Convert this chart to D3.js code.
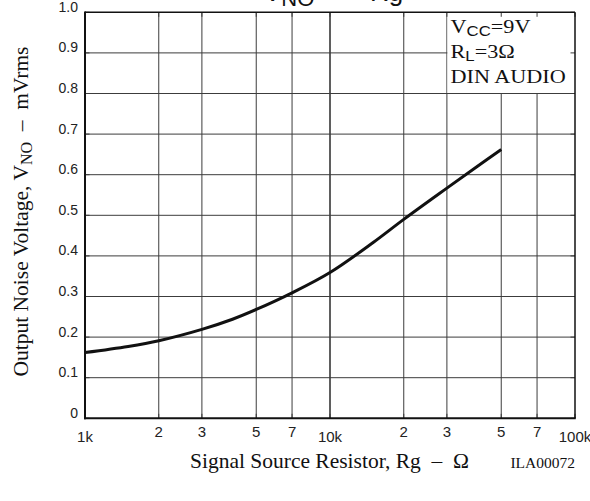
<!DOCTYPE html>
<html>
<head>
<meta charset="utf-8">
<script src="https://cdn.jsdelivr.net/npm/d3@7"></script>
<style>
  html, body { margin: 0; padding: 0; background: #fff; }
  svg { display: block; }
  text { white-space: pre; }
</style>
</head>
<body>
<svg id="chart" width="590" height="501"></svg>
<script>
// Signal source resistance (ohms) and output noise voltage (mVrms)
const rg  = [1000, 1500, 2000, 3000, 4000, 5000, 7000, 10000, 15000, 20000, 30000, 40000, 50000];
const vno = [0.162, 0.177, 0.191, 0.219, 0.244, 0.268, 0.309, 0.359, 0.433, 0.49, 0.567, 0.621, 0.662];

// Log-axis grid positions and their labels
const xTicks = [1000, 2000, 3000, 5000, 7000, 10000, 20000, 30000, 50000, 70000, 100000];
const xTickLabels = ["1k", "2", "3", "5", "7", "10k", "2", "3", "5", "7", "100k"];
const yTicks = [0, 0.1, 0.2, 0.3, 0.4, 0.5, 0.6, 0.7, 0.8, 0.9, 1.0];
const yTickLabels = ["0", "0.1", "0.2", "0.3", "0.4", "0.5", "0.6", "0.7", "0.8", "0.9", "1.0"];

// Condition box text
const condLines = [
  { main: "V", sub: "CC", rest: "=9V" },
  { main: "R", sub: "L", rest: "=3\u03A9" },
  { main: "DIN AUDIO", sub: "", rest: "" }
];

const svg = d3.select("#chart");
const plotL = 85, plotR = 575, plotT = 12.3, plotB = 418.3;

const x = d3.scaleLog().domain([1000, 100000]).range([plotL, plotR]);
const y = d3.scaleLinear().domain([0, 1]).range([plotB, plotT]);

const serif = "'Liberation Serif', 'Times New Roman', serif";
const sans = "'Liberation Sans', Arial, sans-serif";

// Title (runs off the top edge of the page)
const title = svg.append("text")
  .attr("font-family", sans).attr("font-size", 26).attr("fill", "#111")
  .attr("y", 0.5);
title.append("tspan").attr("x", 264).text("V");
title.append("tspan").attr("font-size", 22).attr("dy", 5.5).text("NO");
title.append("tspan").attr("dy", -5.5).text(" \u2013 ");
title.append("tspan").attr("x", 370).text("Rg");

// Grid
const grid = svg.append("g");
grid.selectAll("line").data(xTicks.slice(1, -1)).join("line")
  .attr("x1", d => x(d)).attr("x2", d => x(d))
  .attr("y1", plotT).attr("y2", plotB)
  .attr("stroke", d => d === 10000 ? "#1a1a1a" : "#3c3c3c")
  .attr("stroke-width", d => d === 10000 ? 1.4 : 1);
const gridY = svg.append("g");
gridY.selectAll("line").data(yTicks.slice(1, -1)).join("line")
  .attr("x1", plotL).attr("x2", plotR)
  .attr("y1", d => y(d)).attr("y2", d => y(d))
  .attr("stroke", "#3c3c3c").attr("stroke-width", 1);

// Condition box blanks the grid in the top-right cell block
svg.append("rect")
  .attr("x", x(30000) + 0.5).attr("y", plotT)
  .attr("width", plotR - x(30000) - 0.5).attr("height", y(0.8) - plotT - 0.5)
  .attr("fill", "#fff");

// Inward tick marks on all four sides
const tk = 4.5;
const tickG = svg.append("g").attr("stroke", "#3c3c3c").attr("stroke-width", 1);
tickG.append("g").selectAll("line").data(xTicks).join("line")
  .attr("x1", d => x(d)).attr("x2", d => x(d)).attr("y1", plotT).attr("y2", plotT + tk);
tickG.append("g").selectAll("line").data(xTicks).join("line")
  .attr("x1", d => x(d)).attr("x2", d => x(d)).attr("y1", plotB).attr("y2", plotB - tk);
tickG.append("g").selectAll("line").data(yTicks).join("line")
  .attr("x1", plotL).attr("x2", plotL + tk).attr("y1", d => y(d)).attr("y2", d => y(d));
tickG.append("g").selectAll("line").data(yTicks).join("line")
  .attr("x1", plotR).attr("x2", plotR - tk).attr("y1", d => y(d)).attr("y2", d => y(d));

// Frame
const frame = svg.append("g").attr("stroke", "#111").attr("fill", "none");
frame.append("line").attr("x1", plotL).attr("x2", plotR).attr("y1", plotT).attr("y2", plotT).attr("stroke-width", 1.5);
frame.append("line").attr("x1", plotR).attr("x2", plotR).attr("y1", plotT).attr("y2", plotB).attr("stroke-width", 1.5);
frame.append("line").attr("x1", plotL).attr("x2", plotL).attr("y1", plotT - 0.75).attr("y2", plotB + 1).attr("stroke-width", 2);
frame.append("line").attr("x1", plotL - 1).attr("x2", plotR + 0.75).attr("y1", plotB).attr("y2", plotB).attr("stroke-width", 2);

// Noise curve
const line = d3.line()
  .x((d, i) => x(rg[i]))
  .y(d => y(d))
  .curve(d3.curveCatmullRom.alpha(0.5));
svg.append("path")
  .datum(vno)
  .attr("d", line)
  .attr("fill", "none")
  .attr("stroke", "#111")
  .attr("stroke-width", 3)
  .attr("stroke-linejoin", "round");

// Y tick labels
svg.append("g").selectAll("text").data(yTicks).join("text")
  .attr("x", plotL - 7)
  .attr("y", d => y(d) - 0.5)
  .attr("text-anchor", "end")
  .attr("font-family", sans).attr("font-size", 14).attr("fill", "#222")
  .text((d, i) => yTickLabels[i]);

// X tick labels: decade labels sit a little lower than the in-between digits
svg.append("g").selectAll("text").data(xTicks).join("text")
  .attr("x", d => x(d))
  .attr("y", (d, i) => /k$/.test(xTickLabels[i]) ? 442 : 437)
  .attr("text-anchor", "middle")
  .attr("font-family", sans).attr("font-size", 15).attr("fill", "#222")
  .text((d, i) => xTickLabels[i]);

// Condition box text
const cond = svg.append("g")
  .attr("transform", "translate(450.5,0) scale(1.2,1)")
  .attr("font-family", serif).attr("font-size", 18.5).attr("fill", "#111");
condLines.forEach((c, i) => {
  const t = cond.append("text").attr("x", 0).attr("y", 32.7 + i * 25.3);
  t.append("tspan").text(c.main);
  if (c.sub) {
    t.append("tspan").attr("font-family", sans).attr("font-size", 14).attr("dy", 3.5).text(c.sub);
    t.append("tspan").attr("dy", -3.5).text(c.rest);
  }
});

// Axis titles
const yTitle = svg.append("text")
  .attr("transform", "translate(27.5,211.5) rotate(-90)")
  .attr("text-anchor", "middle")
  .attr("font-family", serif).attr("font-size", 21.5).attr("fill", "#111");
yTitle.append("tspan").text("Output Noise Voltage, V");
yTitle.append("tspan").attr("font-size", 16).attr("dy", 4).text("NO");
yTitle.append("tspan").attr("dy", -4).text("  \u2013  mVrms");

svg.append("text")
  .attr("x", 329.5).attr("y", 468.4)
  .attr("text-anchor", "middle")
  .attr("font-family", serif).attr("font-size", 21.5).attr("fill", "#111")
  .text("Signal Source Resistor, Rg  \u2013  \u03A9");

svg.append("text")
  .attr("x", 575).attr("y", 468.4)
  .attr("text-anchor", "end")
  .attr("font-family", serif).attr("font-size", 15.5).attr("fill", "#111")
  .text("ILA00072");
</script>
</body>
</html>
